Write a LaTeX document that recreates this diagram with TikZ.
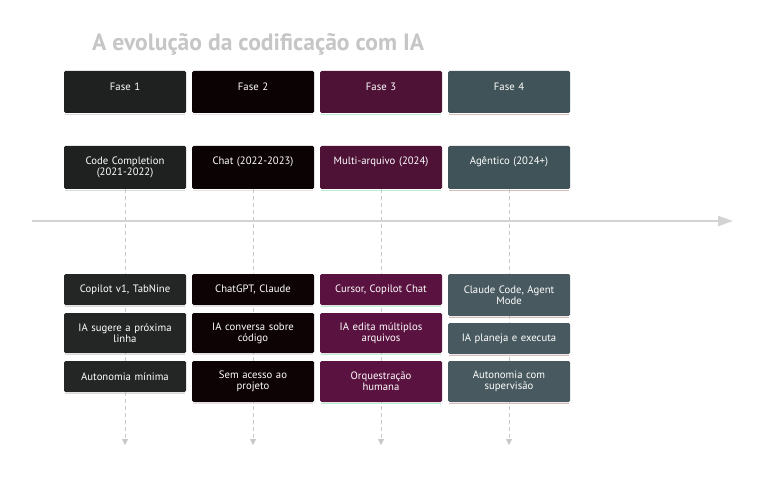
\documentclass[tikz,border=0pt]{standalone}
\usepackage{fontspec}
\setmainfont{PT Sans}
\usetikzlibrary{arrows.meta}
\definecolor{cA}{HTML}{1F2121}
\definecolor{cB}{HTML}{0B0204}
\definecolor{cC}{HTML}{4E1237}
\definecolor{cD}{HTML}{405358}
\definecolor{eA}{HTML}{242626}
\definecolor{eB}{HTML}{0D0305}
\definecolor{eC}{HTML}{5A1340}
\definecolor{eD}{HTML}{485A60}
\definecolor{lA}{HTML}{D9D9D9}
\definecolor{lB}{HTML}{E8E0E0}
\definecolor{lC}{HTML}{B8F0D6}
\definecolor{lD}{HTML}{D9BDBA}
\definecolor{axis}{HTML}{D3D3D3}
\definecolor{dash}{HTML}{C8C8C8}
\definecolor{titlec}{HTML}{C6C6C6}
\tikzset{
  box/.style={rounded corners=1.5pt, minimum width=122pt, text width=112pt, align=center,
    text=white, font=\fontsize{10.7}{12}\selectfont, inner sep=0pt},
  under/.style={draw=#1, line width=1.2pt},
  vline/.style={draw=dash, dashed, dash pattern=on 4pt off 3pt, line width=0.8pt,
    -{Triangle[width=6pt,length=6pt]}},
}
\begin{document}
\begin{tikzpicture}[x=1pt,y=-1pt]
\useasboundingbox (0,0) rectangle (768,481);
% title
\node[anchor=west, text=titlec, font=\fontsize{23.6}{28}\selectfont\bfseries, inner sep=0pt] (title) at (92,44) {A evolução da codificação com IA};
% axis
\coordinate (axs) at (32,221);
\coordinate (axe) at (733,221);
\draw[axis, line width=2.6pt, -{Triangle[width=10pt,length=15pt]}] (axs) -- (axe);
% phase boxes
\foreach \i/\x/\c/\l in {1/125/cA/lA,2/253/cB/lB,3/381/cC/lC,4/509/cD/lD}{
  \node[box, fill=\c, minimum height=42pt] (f\i) at (\x,92) {\raisebox{10pt}{Fase \i}};
  \draw[under=\l] ([xshift=1pt,yshift=-1pt]f\i.south west) -- ([xshift=-1pt,yshift=-1pt]f\i.south east);
}
% section boxes
\node[box, fill=cA, minimum height=43pt] (s1) at (125,167.5) {Code Completion\\[-1pt](2021-2022)};
\node[box, fill=cB, minimum height=43pt] (s2) at (253,167.5) {\raisebox{2pt}{Chat (2022-2023)}\\[-1pt]\phantom{X}};
\node[box, fill=cC, minimum height=43pt] (s3) at (381,167.5) {\raisebox{2pt}{Multi-arquivo (2024)}\\[-1pt]\phantom{X}};
\node[box, fill=cD, minimum height=43pt] (s4) at (509,167.5) {\raisebox{2pt}{Agêntico (2024+)}\\[-1pt]\phantom{X}};
\foreach \i/\l in {1/lA,2/lB,3/lC,4/lD}{
  \draw[under=\l] ([xshift=1pt,yshift=-1pt]s\i.south west) -- ([xshift=-1pt,yshift=-1pt]s\i.south east);
}
% dashed lines
\foreach \i/\x in {1/125,2/253,3/381,4/509}{
  \coordinate (e\i) at (\x,445);
  \draw[vline] (s\i.south) -- (e\i);
}
% event boxes column 1
\node[box, fill=eA, minimum height=31pt] (a1) at (125,289.5) {Copilot v1, TabNine};
\node[box, fill=eA, minimum height=40pt] (a2) at (125,333) {IA sugere a próxima\\[-1pt]linha};
\node[box, fill=eA, minimum height=31pt] (a3) at (125,376.5) {Autonomia mínima};
% column 2
\node[box, fill=eB, minimum height=31pt] (b1) at (253,289.5) {ChatGPT, Claude};
\node[box, fill=eB, minimum height=40pt] (b2) at (253,333) {IA conversa sobre\\[-1pt]código};
\node[box, fill=eB, minimum height=41pt] (b3) at (253,381.5) {Sem acesso ao\\[-1pt]projeto};
% column 3
\node[box, fill=eC, minimum height=31pt] (c1) at (381,289.5) {Cursor, Copilot Chat};
\node[box, fill=eC, minimum height=40pt] (c2) at (381,333) {IA edita múltiplos\\[-1pt]arquivos};
\node[box, fill=eC, minimum height=41pt] (c3) at (381,381.5) {Orquestração\\[-1pt]humana};
% column 4
\node[box, fill=eD, minimum height=42pt] (d1) at (509,295) {Claude Code, Agent\\[-1pt]Mode};
\node[box, fill=eD, minimum height=31pt] (d2) at (509,338.5) {IA planeja e executa};
\node[box, fill=eD, minimum height=41pt] (d3) at (509,381.5) {Autonomia com\\[-1pt]supervisão};
\foreach \n/\l in {a1/lA,a2/lA,a3/lA,b1/lB,b2/lB,b3/lB,c1/lC,c2/lC,c3/lC,d1/lD,d2/lD,d3/lD}{
  \draw[under=\l] ([xshift=1pt,yshift=-1pt]\n.south west) -- ([xshift=-1pt,yshift=-1pt]\n.south east);
}
\end{tikzpicture}
\end{document}
